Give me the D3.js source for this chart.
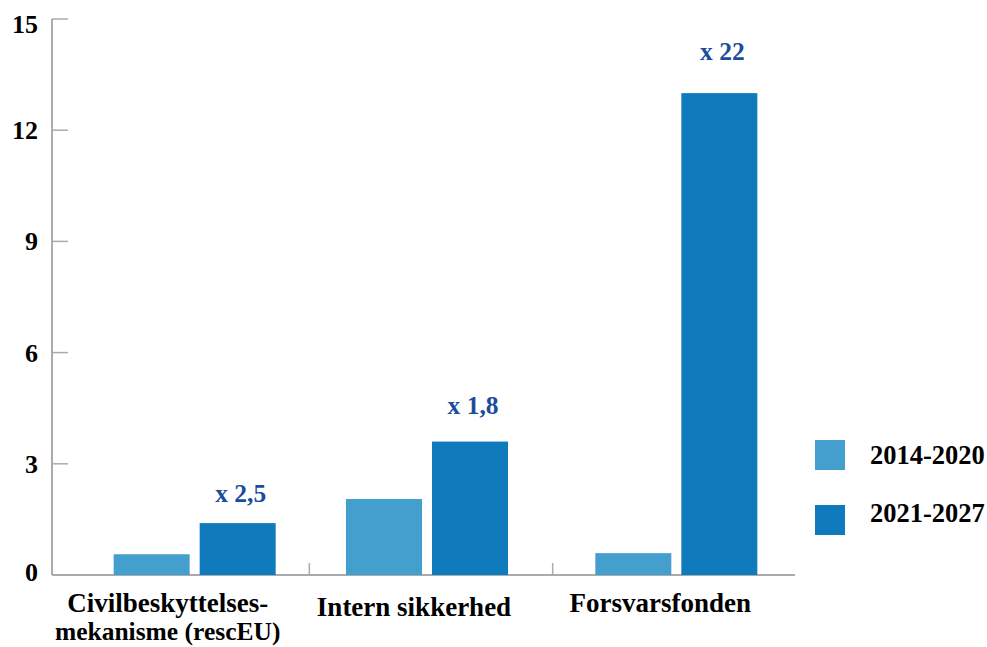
<!DOCTYPE html>
<html>
<head>
<meta charset="utf-8">
<script src="https://cdn.jsdelivr.net/npm/d3@7"></script>
<style>
  html, body { margin: 0; padding: 0; background: #fff; }
  svg { display: block; }
</style>
</head>
<body>
<svg id="chart" width="987" height="647"></svg>
<script>
const categories = ["Civilbeskyttelses-\nmekanisme (rescEU)", "Intern sikkerhed", "Forsvarsfonden"];
const series = ["2014-2020", "2021-2027"];
const values2014 = [0.56, 2.05, 0.59];
const values2021 = [1.4, 3.6, 13.0];
const multipliers = ["x 2,5", "x 1,8", "x 22"];
const yTicks = [0, 3, 6, 9, 12, 15];
const colors = ["#449fcf", "#0f7bbd"];

const FONT = "'Liberation Serif', 'Times New Roman', Times, serif";
const svg = d3.select("#chart");
const axisColor = "#a9abae";

const y = d3.scaleLinear().domain([0, 15]).range([575, 19]);
const x = d3.scaleBand().domain(categories).range([66, 796]);

const barW = 76;
const gap = 10;

function txt(sel) {
  return sel.attr("font-family", FONT).attr("font-weight", "bold");
}

// y axis line
svg.append("line")
  .attr("x1", 52).attr("x2", 52)
  .attr("y1", y(15)).attr("y2", y(0))
  .attr("stroke", axisColor).attr("stroke-width", 2);

// y ticks
const yg = svg.append("g");
const tickNudge = {15: 5, 0: -3};
yTicks.forEach(t => {
  yg.append("line")
    .attr("x1", 52).attr("x2", 68)
    .attr("y1", y(t)).attr("y2", y(t))
    .attr("stroke", axisColor).attr("stroke-width", 1.5);
  txt(yg.append("text"))
    .attr("x", 38).attr("y", y(t) + 9 + (tickNudge[t] || 0))
    .attr("text-anchor", "end")
    .attr("font-size", 26)
    .attr("fill", "#000")
    .text(t);
});

// x axis line
svg.append("line")
  .attr("x1", 52).attr("x2", 795)
  .attr("y1", y(0)).attr("y2", y(0))
  .attr("stroke", axisColor).attr("stroke-width", 2);

// separators between categories
categories.slice(1).forEach(c => {
  svg.append("line")
    .attr("x1", x(c)).attr("x2", x(c))
    .attr("y1", y(0)).attr("y2", y(0) - 12)
    .attr("stroke", axisColor).attr("stroke-width", 1.5);
});

const offsets = [7, -4, 2];
const data = categories.map((c, i) => ({
  cat: c,
  center: x(c) + x.bandwidth() / 2 + offsets[i],
  v: [values2014[i], values2021[i]],
  m: multipliers[i]
}));

// bars + multiplier labels
const multGap = [21, 28, 33];
data.forEach((d, i) => {
  d.v.forEach((v, j) => {
    const bx = j === 0 ? d.center - gap / 2 - barW : d.center + gap / 2;
    svg.append("rect")
      .attr("x", bx)
      .attr("y", y(v))
      .attr("width", barW)
      .attr("height", y(0) - y(v))
      .attr("fill", colors[j]);
  });
  txt(svg.append("text"))
    .attr("x", d.center + gap / 2 + barW / 2 + 3)
    .attr("y", y(d.v[1]) - multGap[i])
    .attr("text-anchor", "middle")
    .attr("font-size", 25.5)
    .attr("fill", "#1b4d9c")
    .text(d.m);
});

// category labels
const labelShift = [-27, -13, -16];
const labelBase = [612, 616, 612];
data.forEach((d, i) => {
  const lines = d.cat.split("\n");
  const t = txt(svg.append("text"))
    .attr("x", d.center + labelShift[i])
    .attr("y", labelBase[i])
    .attr("text-anchor", "middle")
    .attr("font-size", 27)
    .attr("fill", "#000");
  lines.forEach((ln, k) => {
    t.append("tspan")
      .attr("x", d.center + labelShift[i])
      .attr("dy", k === 0 ? 0 : 28)
      .attr("font-size", k === 0 ? 27 : 25.5)
      .text(ln);
  });
});

// legend
series.forEach((s, j) => {
  const ly = 440 + j * 65;
  svg.append("rect")
    .attr("x", 815).attr("y", ly)
    .attr("width", 30).attr("height", 30)
    .attr("fill", colors[j]);
  txt(svg.append("text"))
    .attr("x", 870).attr("y", ly + 24 - j * 7)
    .attr("font-size", 26.5)
    .attr("fill", "#000")
    .text(s);
});
</script>
</body>
</html>
